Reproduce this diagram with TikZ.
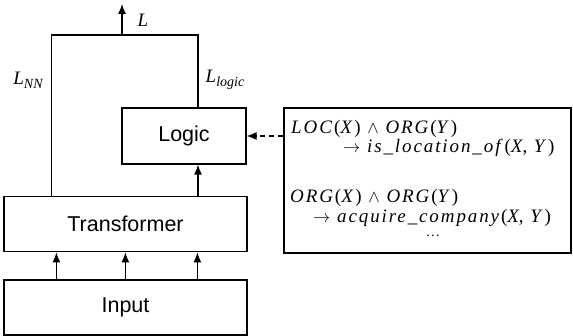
\documentclass[tikz,border=0pt]{standalone}
\usepackage{fontspec}
\setmainfont{Liberation Sans}
\newfontfamily\timesfont[LetterSpace=10]{Liberation Serif}
\newfontfamily\losstimes{Liberation Serif}
\usetikzlibrary{arrows.meta, positioning}

\begin{document}
\begin{tikzpicture}[
  x=1pt, y=-1pt,
  >={Latex[length=10pt, width=8pt]},
  box/.style={draw, line width=1.2pt, minimum width=243pt, minimum height=55pt, inner sep=0pt, font=\fontsize{21.5}{24}\selectfont},
  arrow/.style={->, line width=1.2pt},
  line/.style={line width=1.2pt},
  dashArrow/.style={->, line width=1.2pt, dash pattern=on 5pt off 4pt},
  ruleText/.style={anchor=west, inner sep=0pt, font=\timesfont\fontsize{19}{22}\selectfont},
  lossLabel/.style={inner sep=0pt, font=\losstimes\fontsize{19}{22}\selectfont\itshape}
]
  \useasboundingbox (0,0) rectangle (573,336);

  % boxes on the left
  \node[box] (input) at (125.5,307.5) {Input};
  \node[box, above=27pt of input] (transformer) {Transformer};
  \node[box, minimum width=124pt, minimum height=56pt] (logic) at (184,136) {Logic};

  % rules
  \node[draw, line width=1.2pt, minimum width=287pt, minimum height=145pt, inner sep=0pt] (rules) at (427.5,180.5) {};
  \node[ruleText] (rule1a) at (291,129) {\textit{LOC}(\textit{X}) $\wedge$ \textit{ORG}(\textit{Y})};
  \node[ruleText] (rule1b) at (343,148) {$\rightarrow$ \textit{is\_location\_of}(\textit{X}, \textit{Y})};
  \node[ruleText] (rule2a) at (290,198) {\textit{ORG}(\textit{X}) $\wedge$ \textit{ORG}(\textit{Y})};
  \node[ruleText] (rule2b) at (313,218) {$\rightarrow$ \textit{acquire\_company}(\textit{X}, \textit{Y})};
  \node[ruleText, anchor=center, font=\timesfont\fontsize{14}{14}\selectfont] (dots) at (433,236) {...};

  % losses
  \coordinate (lossTop) at (122,35);
  \node[lossLabel] (lTotal) at (143,20) {L};
  \node[lossLabel] (lNN) at (28,80) {L\raisebox{-4pt}{\fontsize{14}{14}\selectfont NN}};
  \node[lossLabel] (lLogic) at (225,80) {L\raisebox{-4pt}{\fontsize{14}{14}\selectfont logic}};

  % arrows
  \foreach \dx in {53,122,194}
    \draw[arrow] ([xshift=\dx pt]input.north west) -- ([xshift=\dx pt]transformer.south west);
  \draw[arrow] ([xshift=14pt]logic.south |- transformer.north) -- ([xshift=14pt]logic.south);
  \draw[line] ([xshift=48pt]transformer.north west) |- (lossTop) -| ([xshift=14pt]logic.north);
  \draw[arrow] (lossTop) -- ++(0,-31);
  \draw[dashArrow] (rules.west |- logic.east) -- (logic.east);

\end{tikzpicture}
\end{document}
